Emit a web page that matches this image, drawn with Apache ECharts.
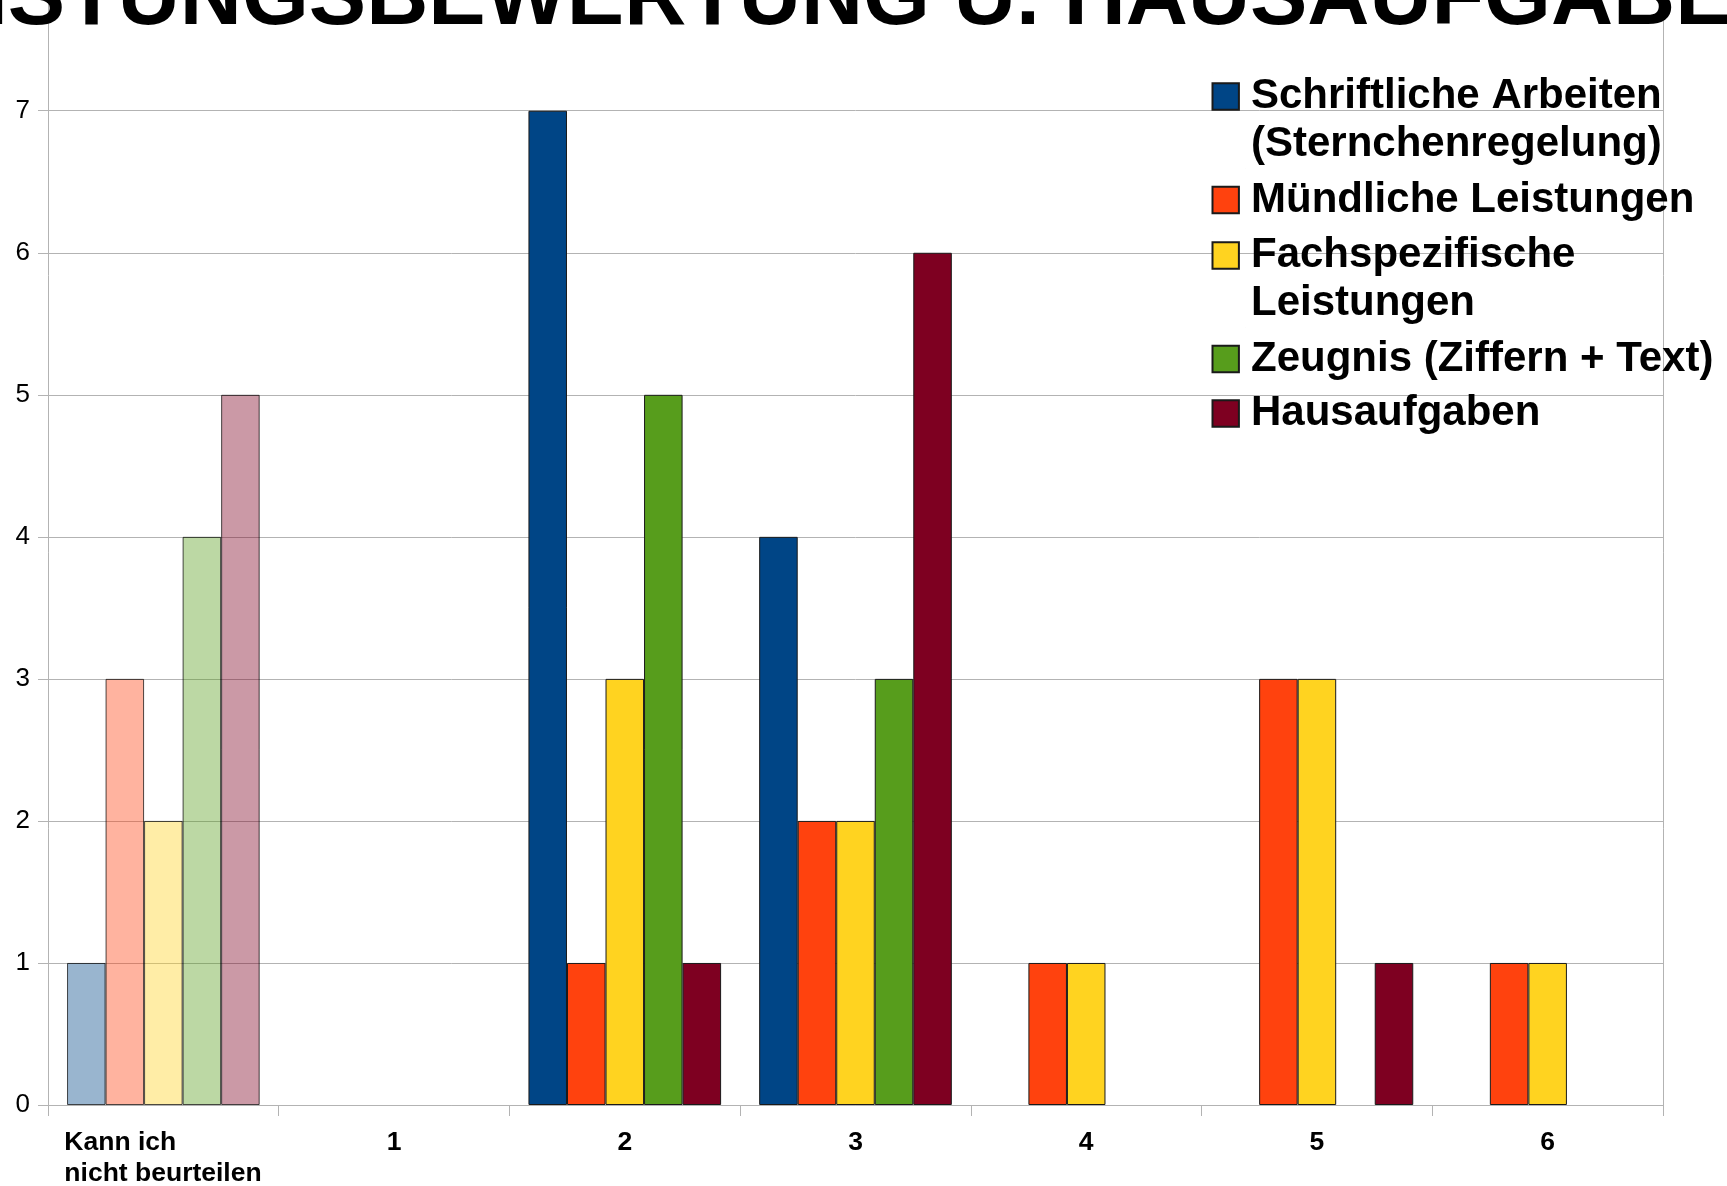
<!DOCTYPE html>
<html><head><meta charset="utf-8">
<script src="https://cdn.jsdelivr.net/npm/echarts@6/dist/echarts.min.js"></script>
<style>html,body{margin:0;padding:0;background:#fff}#c{width:1727px;height:1186px}</style>
</head><body><div id="c"></div>
<script>
const titleText = 'LEISTUNGSBEWERTUNG U. HAUSAUFGABEN';
const categories = ['Kann ich\nnicht beurteilen', '1', '2', '3', '4', '5', '6'];
const seriesNames = ['Schriftliche Arbeiten\n(Sternchenregelung)', 'Mündliche Leistungen', 'Fachspezifische\nLeistungen', 'Zeugnis (Ziffern + Text)', 'Hausaufgaben'];
const schriftliche = [1, 0, 7, 4, 0, 0, 0];
const muendliche = [3, 0, 1, 2, 1, 3, 1];
const fachspezifisch = [2, 0, 3, 2, 1, 3, 1];
const zeugnis = [4, 0, 5, 3, 0, 0, 0];
const hausaufgaben = [5, 0, 1, 6, 0, 1, 0];
const colors = ['#004586', '#ff420e', '#ffd320', '#579d1c', '#7e0021'];

const FONT = '"Liberation Sans", Arial, sans-serif';
const GRAY = '#b3b3b3';
const seriesValues = [schriftliche, muendliche, fachspezifisch, zeugnis, hausaufgaben];

function fade(hex, a) {
  const r = parseInt(hex.slice(1, 3), 16), g = parseInt(hex.slice(3, 5), 16), b = parseInt(hex.slice(5, 7), 16);
  return 'rgba(' + r + ',' + g + ',' + b + ',' + a + ')';
}
function buildData(values, color) {
  return values.map(function (v, i) {
    if (v === 0) return '-';
    if (i === 0) return { value: v, itemStyle: { color: fade(color, 0.4), borderColor: 'rgba(0,0,0,0.7)' } };
    return v;
  });
}

const iconTwoLine = 'path://M0,0L0.01,0M0,10.8h26.4v26.4h-26.4zM33.5,96L33.49,96';
const iconOneLine = 'path://M0,0h26.4v26.4h-26.4zM33.5,0L33.49,0';

const chart = echarts.init(document.getElementById('c'), null, { renderer: 'canvas' });
chart.setOption({
  animation: false,
  backgroundColor: '#fff',
  textStyle: { fontFamily: FONT },
  title: {
    text: titleText,
    left: -126, top: -42.8, padding: 0,
    textStyle: { fontSize: 86, fontWeight: 'bold', lineHeight: 86, color: '#000', fontFamily: FONT }
  },
  legend: {
    orient: 'vertical',
    left: 1211.5, top: 71.5, padding: 0,
    itemWidth: 33.5, itemHeight: 96, itemGap: 6.5,
    symbolKeepAspect: true,
    selectedMode: false,
    textStyle: { fontSize: 42, fontWeight: 'bold', lineHeight: 48, color: '#000', fontFamily: FONT },
    data: seriesNames.map(function (n) {
      return { name: n, icon: n.indexOf('\n') >= 0 ? iconTwoLine : iconOneLine };
    })
  },
  grid: { left: 48, right: 64, top: -31.3, bottom: 81, containLabel: false, outerBoundsMode: 'none' },
  xAxis: {
    type: 'category',
    data: categories,
    axisLine: { show: true, lineStyle: { color: GRAY, width: 1 } },
    axisTick: { show: true, length: 11, alignWithLabel: false, lineStyle: { color: GRAY } },
    axisLabel: {
      interval: 0, margin: 22, color: '#000', fontSize: 26.5, fontWeight: 'bold', lineHeight: 31, fontFamily: FONT,
      formatter: function (v, i) {
        if (v.indexOf('\n') >= 0) return v.split('\n').map(function (s) { return '{l|' + s + '}'; }).join('\n');
        return v;
      },
      rich: { l: { width: 198, align: 'left', fontSize: 26.5, fontWeight: 'bold', lineHeight: 31, color: '#000', fontFamily: FONT } }
    },
    splitLine: { show: false }
  },
  yAxis: [{
    type: 'value', min: 0, max: 8, interval: 1,
    axisLine: { show: true, lineStyle: { color: GRAY } },
    axisTick: { show: true, length: 10, lineStyle: { color: GRAY } },
    axisLabel: { fontSize: 26, color: '#000', margin: 18, fontFamily: FONT },
    splitLine: { show: true, lineStyle: { color: GRAY, width: 1 } }
  }, {
    type: 'value', position: 'right', min: 0, max: 8, interval: 1,
    axisLine: { show: true, lineStyle: { color: GRAY } },
    axisTick: { show: false }, axisLabel: { show: false }, splitLine: { show: false }
  }],
  series: seriesNames.map(function (n, k) {
    return {
      name: n, type: 'bar', yAxisIndex: 0,
      barGap: 0, barCategoryGap: '16.5%',
      itemStyle: { color: colors[k], borderColor: '#1a1a1a', borderWidth: 1 },
      data: buildData(seriesValues[k], colors[k])
    };
  })
});
</script>
</body></html>
